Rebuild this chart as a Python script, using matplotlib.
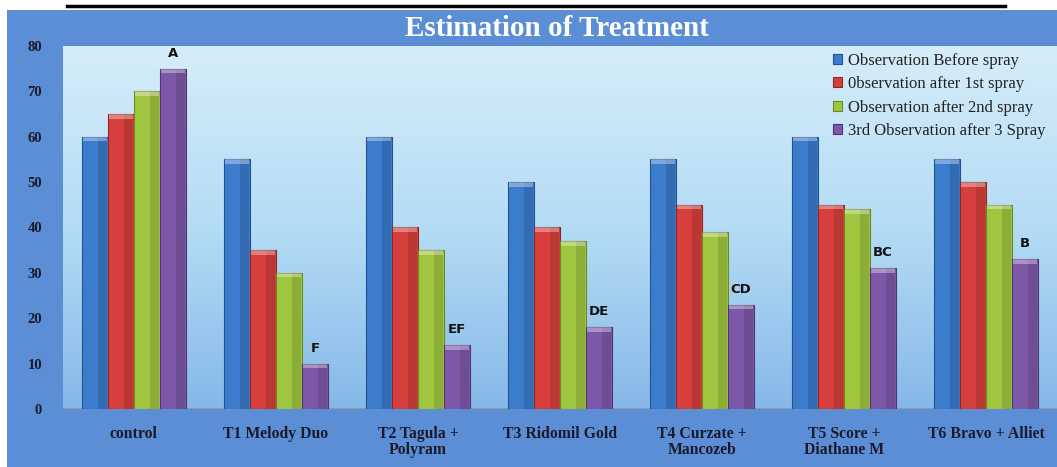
import numpy as np
import matplotlib.pyplot as plt
from matplotlib.colors import LinearSegmentedColormap

# data
treatments = ['control', 'T1 Melody Duo', 'T2 Tagula +\nPolyram', 'T3 Ridomil Gold',
              'T4 Curzate +\nMancozeb', 'T5 Score +\nDiathane M', 'T6 Bravo + Alliet']
before_spray = [60, 55, 60, 50, 55, 60, 55]
after_1st = [65, 35, 40, 40, 45, 45, 50]
after_2nd = [70, 30, 35, 37, 39, 44, 45]
after_3rd = [75, 10, 14, 18, 23, 31, 33]
letters = ['A', 'F', 'EF', 'DE', 'CD', 'BC', 'B']
series_names = ['Observation Before spray', '0bservation after 1st spray',
                'Observation after 2nd spray', '3rd Observation after 3 Spray']
yticks = [0, 10, 20, 30, 40, 50, 60, 70, 80]

colors = ['#3b7ccc', '#d63f3b', '#a0c63f', '#7e58a8']
edges = ['#24528c', '#8e2624', '#6a8a22', '#4f3570']
serif = 'Liberation Serif'

fig = plt.figure(figsize=(10.57, 4.67), dpi=100)
fig.patch.set_facecolor('white')

# blue chart background and title band
bg = fig.add_axes([7 / 1057, 0, 1 - 7 / 1057, 1 - 10 / 467])
bg.set_facecolor('#5b8ed4')
bg.set_xticks([])
bg.set_yticks([])
for s in bg.spines.values():
    s.set_visible(False)

# black rule at the top of the page
fig.add_artist(plt.Line2D([67 / 1057, 1005 / 1057], [1 - 6 / 467, 1 - 6 / 467],
                          color='black', lw=2.5))

ax = fig.add_axes([63 / 1057, 1 - 409 / 467, 1 - 63 / 1057, (409 - 46) / 467])
x = np.arange(len(treatments))
ax.set_xlim(-0.5, len(treatments) - 0.5)
ax.set_ylim(0, 80)

cmap = LinearSegmentedColormap.from_list('plotbg', ['#86b8e8', '#b4dcf5', '#d6edf9'])
grad = np.linspace(0, 1, 256).reshape(-1, 1)
ax.imshow(grad, cmap=cmap, origin='lower', aspect='auto',
          extent=[-0.5, len(treatments) - 0.5, 0, 80], zorder=0)

width = 0.183
all_series = [before_spray, after_1st, after_2nd, after_3rd]
for i, vals in enumerate(all_series):
    pos = x + (i - 1.5) * width
    ax.bar(pos, vals, width, color=colors[i], edgecolor=edges[i], linewidth=0.8,
           label=series_names[i], zorder=3)
    # darker right side for a bit of the 3d look
    ax.bar(pos + width * 0.3, vals, width * 0.35, color='black', alpha=0.12,
           linewidth=0, zorder=4)
    # lighter cap on top of each bar
    ax.bar(pos, [1.0] * len(vals), width * 0.9, bottom=np.array(vals) - 1.0,
           color='white', alpha=0.35, linewidth=0, zorder=4)

for xi, v, lab in zip(x, after_3rd, letters):
    ax.text(xi + 1.5 * width, v + 2.0, lab, ha='center', va='bottom',
            fontsize=9.5, fontweight='bold', family='DejaVu Sans', color='#111111', zorder=5)

ax.set_yticks(yticks)
ax.set_yticklabels([str(t) for t in yticks], fontsize=10.5, fontweight='bold', family=serif,
                   color='#1a1a2e')
ax.set_xticks(x)
ax.set_xticklabels(treatments, fontsize=11.3, fontweight='bold', family=serif,
                   color='#1a1a2e', linespacing=1.0)
ax.tick_params(axis='both', length=0)
ax.tick_params(axis='y', pad=15)
ax.tick_params(axis='x', pad=12)
for s in ax.spines.values():
    s.set_visible(False)
ax.axhline(0, color='#8a9bb0', lw=1.5, zorder=2)

fig.text(557 / 1057, 1 - 28 / 467, 'Estimation of Treatment', ha='center', va='center',
         fontsize=21, fontweight='bold', family=serif, color='white')

leg = ax.legend(loc='upper right', bbox_to_anchor=(0.995, 1.0), frameon=False,
                prop={'family': serif, 'size': 12}, handlelength=0.55, handleheight=0.55,
                handletextpad=0.35, labelspacing=0.45, borderaxespad=0.0)
for t in leg.get_texts():
    t.set_color('#222222')

fig.savefig('out.png', dpi=100)
